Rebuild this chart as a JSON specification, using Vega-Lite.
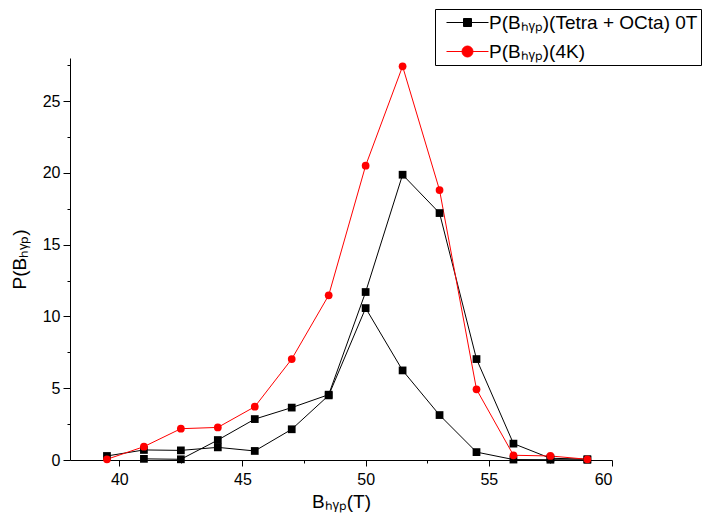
{
  "$schema": "https://vega.github.io/schema/vega-lite/v6.json",
  "autosize": {"type": "none"},
  "width": 542,
  "height": 402,
  "padding": {"left": 70, "top": 58, "right": 95, "bottom": 63},
  "background": "white",
  "config": {
    "view": {"stroke": null},
    "font": "Liberation Sans",
    "axis": {
      "grid": false,
      "domainColor": "black",
      "tickColor": "black",
      "labelColor": "black",
      "titleColor": "black",
      "labelFont": "Liberation Sans",
      "titleFont": "Liberation Sans",
      "labelFontSize": 16,
      "titleFontSize": 19,
      "titleFontWeight": "normal"
    }
  },
  "data": {
    "values": [
      {"s": "P(Bₕᵧₚ)(Tetra + OCta) 0T", "c": "A", "x": 39.5, "y": 0.28},
      {"s": "P(Bₕᵧₚ)(Tetra + OCta) 0T", "c": "A", "x": 41, "y": 0.7},
      {"s": "P(Bₕᵧₚ)(Tetra + OCta) 0T", "c": "A", "x": 42.5, "y": 0.67},
      {"s": "P(Bₕᵧₚ)(Tetra + OCta) 0T", "c": "A", "x": 44, "y": 0.88},
      {"s": "P(Bₕᵧₚ)(Tetra + OCta) 0T", "c": "A", "x": 45.5, "y": 0.63},
      {"s": "P(Bₕᵧₚ)(Tetra + OCta) 0T", "c": "A", "x": 47, "y": 2.14},
      {"s": "P(Bₕᵧₚ)(Tetra + OCta) 0T", "c": "A", "x": 48.5, "y": 4.5},
      {"s": "P(Bₕᵧₚ)(Tetra + OCta) 0T", "c": "A", "x": 50, "y": 10.58},
      {"s": "P(Bₕᵧₚ)(Tetra + OCta) 0T", "c": "A", "x": 51.5, "y": 6.24},
      {"s": "P(Bₕᵧₚ)(Tetra + OCta) 0T", "c": "A", "x": 53, "y": 3.13},
      {"s": "P(Bₕᵧₚ)(Tetra + OCta) 0T", "c": "A", "x": 54.5, "y": 0.55},
      {"s": "P(Bₕᵧₚ)(Tetra + OCta) 0T", "c": "A", "x": 56, "y": 0.03},
      {"s": "P(Bₕᵧₚ)(Tetra + OCta) 0T", "c": "A", "x": 57.5, "y": 0.02},
      {"s": "P(Bₕᵧₚ)(Tetra + OCta) 0T", "c": "A", "x": 59, "y": 0.01},
      {"s": "P(Bₕᵧₚ)(Tetra + OCta) 0T", "c": "B", "x": 41, "y": 0.08},
      {"s": "P(Bₕᵧₚ)(Tetra + OCta) 0T", "c": "B", "x": 42.5, "y": 0.05},
      {"s": "P(Bₕᵧₚ)(Tetra + OCta) 0T", "c": "B", "x": 44, "y": 1.39},
      {"s": "P(Bₕᵧₚ)(Tetra + OCta) 0T", "c": "B", "x": 45.5, "y": 2.85},
      {"s": "P(Bₕᵧₚ)(Tetra + OCta) 0T", "c": "B", "x": 47, "y": 3.65},
      {"s": "P(Bₕᵧₚ)(Tetra + OCta) 0T", "c": "B", "x": 48.5, "y": 4.55},
      {"s": "P(Bₕᵧₚ)(Tetra + OCta) 0T", "c": "B", "x": 50, "y": 11.7},
      {"s": "P(Bₕᵧₚ)(Tetra + OCta) 0T", "c": "B", "x": 51.5, "y": 19.87},
      {"s": "P(Bₕᵧₚ)(Tetra + OCta) 0T", "c": "B", "x": 53, "y": 17.2},
      {"s": "P(Bₕᵧₚ)(Tetra + OCta) 0T", "c": "B", "x": 54.5, "y": 7.03},
      {"s": "P(Bₕᵧₚ)(Tetra + OCta) 0T", "c": "B", "x": 56, "y": 1.14},
      {"s": "P(Bₕᵧₚ)(Tetra + OCta) 0T", "c": "B", "x": 57.5, "y": 0.12},
      {"s": "P(Bₕᵧₚ)(Tetra + OCta) 0T", "c": "B", "x": 59, "y": 0.06},
      {"s": "P(Bₕᵧₚ)(4K)", "c": "R", "x": 39.5, "y": 0.05},
      {"s": "P(Bₕᵧₚ)(4K)", "c": "R", "x": 41, "y": 0.93},
      {"s": "P(Bₕᵧₚ)(4K)", "c": "R", "x": 42.5, "y": 2.18},
      {"s": "P(Bₕᵧₚ)(4K)", "c": "R", "x": 44, "y": 2.27},
      {"s": "P(Bₕᵧₚ)(4K)", "c": "R", "x": 45.5, "y": 3.71},
      {"s": "P(Bₕᵧₚ)(4K)", "c": "R", "x": 47, "y": 7.03},
      {"s": "P(Bₕᵧₚ)(4K)", "c": "R", "x": 48.5, "y": 11.47},
      {"s": "P(Bₕᵧₚ)(4K)", "c": "R", "x": 50, "y": 20.5},
      {"s": "P(Bₕᵧₚ)(4K)", "c": "R", "x": 51.5, "y": 27.42},
      {"s": "P(Bₕᵧₚ)(4K)", "c": "R", "x": 53, "y": 18.8},
      {"s": "P(Bₕᵧₚ)(4K)", "c": "R", "x": 54.5, "y": 4.92},
      {"s": "P(Bₕᵧₚ)(4K)", "c": "R", "x": 56, "y": 0.33},
      {"s": "P(Bₕᵧₚ)(4K)", "c": "R", "x": 57.5, "y": 0.28},
      {"s": "P(Bₕᵧₚ)(4K)", "c": "R", "x": 59, "y": 0.05}
    ]
  },
  "resolve": {"axis": {"x": "independent", "y": "independent"}},
  "layer": [
    {
      "mark": {"type": "line", "strokeWidth": 1},
      "encoding": {
        "x": {
          "field": "x", "type": "quantitative",
          "scale": {"domain": [38, 60], "nice": false, "zero": false},
          "axis": {"orient": "bottom", "values": [40, 45, 50, 55, 60], "tickSize": 6, "labelPadding": 5, "title": "Bₕᵧₚ(T)", "titlePadding": 5}
        },
        "y": {
          "field": "y", "type": "quantitative",
          "scale": {"domain": [0, 28], "nice": false, "zero": true},
          "axis": {"orient": "left", "values": [0, 5, 10, 15, 20, 25], "tickSize": 7, "labelPadding": 3, "title": "P(Bₕᵧₚ)", "titlePadding": 13}
        },
        "detail": {"field": "c"},
        "color": {
          "field": "s", "type": "nominal",
          "scale": {"domain": ["P(Bₕᵧₚ)(Tetra + OCta) 0T", "P(Bₕᵧₚ)(4K)"], "range": ["#000000", "#ff0000"]},
          "legend": {
            "title": null,
            "orient": "none",
            "legendX": 365,
            "legendY": -49,
            "strokeColor": "black",
            "fillColor": "white",
            "padding": 3,
            "cornerRadius": 0,
            "symbolSize": 400,
            "symbolOffset": 19,
            "symbolStrokeWidth": 1,
            "labelFontSize": 19,
            "labelFont": "Liberation Sans",
            "labelColor": "black",
            "labelOffset": 11,
            "labelLimit": 400,
            "rowPadding": 8,
            "encode": {
              "symbols": {
                "update": {
                  "shape": {"signal": "indexof(datum.value, '4K') >= 0 ? 'M-2.1,0H2.1M0.55,0A0.55,0.55 0 1,1 -0.55,0A0.55,0.55 0 1,1 0.55,0Z' : 'M-2.1,0H2.1M-0.4,-0.4H0.4V0.4H-0.4Z'"},
                  "fill": {"signal": "indexof(datum.value, '4K') >= 0 ? '#ff0000' : '#000000'"},
                  "stroke": {"signal": "indexof(datum.value, '4K') >= 0 ? '#ff0000' : '#000000'"},
                  "opacity": {"value": 1},
                  "fillOpacity": {"value": 1}
                }
              }
            }
          }
        }
      }
    },
    {
      "mark": {"type": "point", "filled": true, "opacity": 1, "size": 60},
      "encoding": {
        "x": {"field": "x", "type": "quantitative", "axis": null},
        "y": {"field": "y", "type": "quantitative", "axis": null},
        "color": {"field": "s", "type": "nominal"},
        "shape": {
          "field": "c", "type": "nominal",
          "scale": {"domain": ["A", "B", "R"], "range": ["square", "square", "circle"]},
          "legend": null
        }
      }
    },
    {
      "mark": {"type": "point", "opacity": 0},
      "encoding": {
        "x": {"field": "x", "type": "quantitative", "axis": {"orient": "bottom", "values": [42.5, 47.5, 52.5, 57.5], "labels": false, "domain": false, "tickSize": 3, "title": null}},
        "y": {"field": "y", "type": "quantitative", "axis": {"orient": "left", "values": [2.5, 7.5, 12.5, 17.5, 22.5, 27.5], "labels": false, "domain": false, "tickSize": 3, "title": null}}
      }
    }
  ]
}
